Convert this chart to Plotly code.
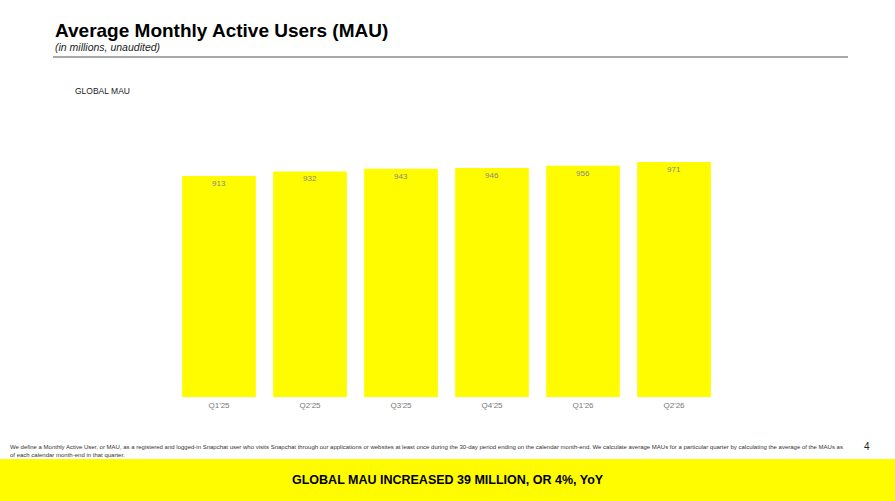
import plotly.graph_objects as go

quarters = ["Q1'25", "Q2'25", "Q3'25", "Q4'25", "Q1'26", "Q2'26"]
mau = [913, 932, 943, 946, 956, 971]

W, H = 895, 501
YEL = "#FFFC00"
FONT = "Liberation Sans, Arial, sans-serif"

fig = go.Figure(go.Bar(
    x=quarters, y=mau, marker=dict(color=YEL, line=dict(width=0)),
    text=[str(v) for v in mau], textposition="inside", insidetextanchor="end",
    textfont=dict(color="#888888", size=8, family=FONT), width=0.81,
    cliponaxis=False,
))

def fx(px): return px / W
def fy(py): return 1 - py / H

fig.update_layout(
    width=W, height=H, margin=dict(l=0, r=0, t=0, b=0),
    paper_bgcolor="white", plot_bgcolor="white", showlegend=False,
    font=dict(family=FONT),
    xaxis=dict(domain=[fx(173.5), fx(719.5)], showgrid=False, showline=False, zeroline=False,
               tickfont=dict(size=8, color="#777777"), ticks="", ticklabelstandoff=2),
    yaxis=dict(domain=[fy(397), fy(140)], range=[0, 1062], visible=False),
    shapes=[
        dict(type="line", xref="paper", yref="paper", x0=fx(53), x1=fx(848), y0=fy(57), y1=fy(57),
             line=dict(color="#555555", width=1)),
        dict(type="rect", xref="paper", yref="paper", x0=0, x1=1, y0=0, y1=fy(459),
             fillcolor=YEL, line=dict(width=0), layer="below"),
    ],
    annotations=[
        dict(text="<b>Average Monthly Active Users (MAU)</b>", x=fx(53), y=fy(30), xref="paper", yref="paper",
             xanchor="left", yanchor="middle", showarrow=False, font=dict(size=19, color="black")),
        dict(text="<i>(in millions, unaudited)</i>", x=fx(53), y=fy(47), xref="paper", yref="paper",
             xanchor="left", yanchor="middle", showarrow=False, font=dict(size=10.5, color="#222")),
        dict(text="GLOBAL MAU", x=fx(73), y=fy(91), xref="paper", yref="paper",
             xanchor="left", yanchor="middle", showarrow=False, font=dict(size=8.5, color="#222")),
        dict(text="We define a Monthly Active User, or MAU, as a registered and logged-in Snapchat user who visits Snapchat through our applications or websites at least once during the 30-day period ending on the calendar month-end. We calculate average MAUs for a particular quarter by calculating the average of the MAUs as<br>of each calendar month-end in that quarter.",
             x=fx(8), y=fy(442), xref="paper", yref="paper", xanchor="left", yanchor="top", align="left",
             showarrow=False, font=dict(size=6.0, color="#333")),
        dict(text="4", x=fx(867), y=fy(446), xref="paper", yref="paper",
             xanchor="center", yanchor="middle", showarrow=False, font=dict(size=10, color="#222")),
        dict(text="<b>GLOBAL MAU INCREASED 39 MILLION, OR 4%, YoY</b>", x=0.5, y=fy(480), xref="paper", yref="paper",
             xanchor="center", yanchor="middle", showarrow=False, font=dict(size=12.5, color="black")),
    ],
)
fig.write_html("out.html", config={"displayModeBar": False})
with open("out.html", encoding="utf-8") as f:
    html = f.read()
html = html.replace("<head>", "<head><style>html,body{margin:0;padding:0;overflow:hidden;}</style>", 1)
with open("out.html", "w", encoding="utf-8") as f:
    f.write(html)
